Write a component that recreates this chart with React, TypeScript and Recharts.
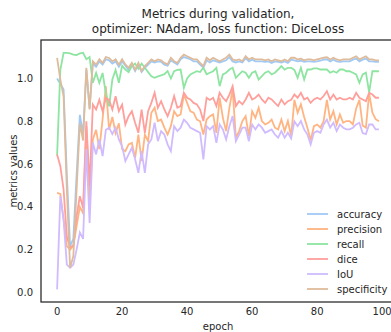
import { LineChart, Line, XAxis, YAxis } from "recharts";

// epoch 0..99 values
const accuracy = [
  1.0, 0.975, 0.948, 0.55, 0.216, 0.25, 0.55, 0.83, 0.74, 1.04, 0.86,
  1.07, 1.055, 1.08, 1.065, 1.09, 1.085, 1.07, 1.08, 1.055, 1.08,
  1.06, 1.04, 1.065, 1.035, 1.065, 1.03, 1.05, 1.065, 1.08, 1.075,
  1.08, 1.078, 1.065, 1.06, 1.085, 1.075, 1.065, 1.09, 1.1, 1.095,
  1.09, 1.08, 1.08, 1.065, 1.05, 1.085, 1.075, 1.085, 1.08, 1.075,
  1.08, 1.085, 1.1, 1.08, 1.075, 1.08, 1.075, 1.095, 1.08, 1.088,
  1.08, 1.08, 1.08, 1.078, 1.08, 1.073, 1.08, 1.078, 1.075, 1.08,
  1.073, 1.088, 1.085, 1.08, 1.083, 1.078, 1.08, 1.08, 1.078, 1.08,
  1.083, 1.088, 1.09, 1.08, 1.088, 1.08, 1.078, 1.08, 1.08, 1.08,
  1.088, 1.093, 1.08, 1.088, 1.093, 1.08, 1.08, 1.078, 1.078,
];
const precision = [
  0.465, 0.46, 0.34, 0.216, 0.2, 0.216, 0.31, 0.4, 0.37, 0.777, 0.43,
  0.715, 0.76, 0.67, 0.81, 0.964, 0.76, 0.82, 0.745, 0.79, 0.67,
  0.66, 0.692, 0.699, 0.629, 0.738, 0.614, 0.738, 0.707, 0.84, 0.863,
  0.801, 0.808, 0.77, 0.738, 0.777, 0.847, 0.824, 0.832, 0.925, 0.886,
  0.847, 0.84, 0.808, 0.8, 0.738, 0.808, 0.824, 0.832, 0.746, 0.91,
  0.816, 0.754, 0.863, 0.949, 0.723, 0.754, 0.801, 0.824, 0.731, 0.847,
  0.816, 0.863, 0.801, 0.785, 0.793, 0.808, 0.77, 0.762, 0.808, 0.754,
  0.801, 0.73, 0.9, 0.84, 0.88, 0.82, 0.77, 0.71, 0.777, 0.785,
  0.77, 0.801, 0.9, 0.808, 0.847, 0.785, 0.832, 0.793, 0.801, 0.801,
  0.785, 0.86, 0.9, 0.78, 0.77, 0.93, 0.84, 0.81, 0.8,
];
const recall = [
  0.64, 1.04, 1.12, 1.12, 1.117, 1.112, 1.11, 1.117, 1.12, 1.09, 1.1,
  0.98, 1.026, 0.98, 1.026, 0.93, 0.87, 0.995, 1.04, 0.98, 1.06,
  1.042, 1.03, 1.058, 1.07, 1.045, 1.07, 1.05, 1.03, 1.01, 1.003,
  1.01, 1.015, 1.02, 1.035, 1.0, 1.034, 1.04, 1.042, 0.956, 1.0,
  1.019, 1.027, 1.034, 1.03, 1.05, 1.02, 1.027, 1.034, 1.05, 0.964,
  1.019, 1.027, 1.042, 1.05, 1.003, 1.019, 1.034, 1.027, 1.003, 1.027,
  1.034, 0.995, 1.011, 1.027, 1.034, 1.019, 1.027, 1.042, 1.058, 1.042,
  1.05, 1.05, 1.04, 1.003, 1.05, 0.995, 1.042, 1.042, 1.047, 1.047,
  1.042, 1.042, 1.042, 1.027, 1.034, 1.027, 1.042, 1.042, 1.034, 1.034,
  1.027, 1.019, 0.98, 1.019, 1.027, 0.935, 1.034, 1.034, 1.034,
];
const dice = [
  0.645, 0.59, 0.48, 0.26, 0.21, 0.22, 0.355, 0.45, 0.395, 0.8, 0.5,
  0.878, 0.855, 0.9, 0.847, 0.909, 0.9, 0.855, 0.917, 0.847, 0.878,
  0.785, 0.824, 0.847, 0.793, 0.746, 0.855, 0.746, 0.847, 0.886, 0.933,
  0.863, 0.894, 0.855, 0.824, 0.863, 0.918, 0.863, 0.871, 0.933, 0.91,
  0.902, 0.886, 0.879, 0.855, 0.801, 0.91, 0.9, 0.91, 0.871, 0.933,
  0.91, 0.894, 0.925, 0.964, 0.871, 0.894, 0.879, 0.902, 0.933, 0.902,
  0.91, 0.925, 0.902, 0.886, 0.91, 0.902, 0.886, 0.871, 0.902, 0.879,
  0.894, 0.9, 0.925, 0.91, 0.933, 0.902, 0.91, 0.886, 0.902, 0.91,
  0.902, 0.918, 0.941, 0.902, 0.925, 0.902, 0.91, 0.902, 0.902, 0.91,
  0.902, 0.933, 0.91, 0.902, 0.894, 0.933, 0.925, 0.91, 0.91,
];
const iou = [
  0.014, 0.45, 0.34, 0.13, 0.115, 0.13, 0.2, 0.28, 0.25, 0.67, 0.325,
  0.7, 0.645, 0.715, 0.637, 0.76, 0.77, 0.74, 0.77, 0.715, 0.683,
  0.614, 0.645, 0.676, 0.622, 0.559, 0.66, 0.559, 0.692, 0.715, 0.793,
  0.707, 0.754, 0.738, 0.692, 0.66, 0.777, 0.754, 0.77, 0.808, 0.793,
  0.77, 0.762, 0.754, 0.746, 0.622, 0.777, 0.762, 0.777, 0.699, 0.785,
  0.762, 0.715, 0.777, 0.824, 0.707, 0.738, 0.77, 0.77, 0.707, 0.785,
  0.762, 0.785, 0.77, 0.746, 0.754, 0.762, 0.738, 0.723, 0.754, 0.723,
  0.746, 0.72, 0.8, 0.777, 0.801, 0.762, 0.738, 0.692, 0.746, 0.754,
  0.746, 0.785, 0.808, 0.77, 0.793, 0.754, 0.785, 0.77, 0.762, 0.762,
  0.77, 0.785, 0.793, 0.745, 0.74, 0.785, 0.785, 0.762, 0.762,
];
const specificity = [
  1.096, 0.995, 0.917, 0.48, 0.115, 0.17, 0.48, 0.79, 0.71, 1.05, 0.855,
  1.08, 1.065, 1.09, 1.073, 1.1, 1.096, 1.08, 1.09, 1.065, 1.09,
  1.066, 1.05, 1.073, 1.04, 1.073, 1.035, 1.058, 1.073, 1.089, 1.081,
  1.089, 1.085, 1.073, 1.066, 1.097, 1.081, 1.073, 1.097, 1.112, 1.104,
  1.097, 1.089, 1.089, 1.073, 1.058, 1.097, 1.085, 1.097, 1.089, 1.081,
  1.089, 1.097, 1.112, 1.089, 1.085, 1.089, 1.081, 1.104, 1.089, 1.097,
  1.089, 1.089, 1.089, 1.085, 1.089, 1.081, 1.089, 1.085, 1.081, 1.089,
  1.081, 1.097, 1.097, 1.089, 1.093, 1.085, 1.089, 1.089, 1.085, 1.089,
  1.093, 1.097, 1.1, 1.089, 1.097, 1.089, 1.085, 1.089, 1.089, 1.089,
  1.097, 1.104, 1.089, 1.097, 1.104, 1.089, 1.089, 1.085, 1.085,
];

const xTicks = [0, 20, 40, 60, 80, 100];
const yTicks = [0, 0.2, 0.4, 0.6, 0.8, 1.0];

const series = [
  { key: "accuracy", color: "#a1c9f4" },
  { key: "precision", color: "#ffb482" },
  { key: "recall", color: "#8de5a1" },
  { key: "dice", color: "#ff9f9b" },
  { key: "IoU", color: "#d0bbff" },
  { key: "specificity", color: "#debb9b" },
];

const data = accuracy.map((_, i) => ({
  epoch: i,
  accuracy: accuracy[i],
  precision: precision[i],
  recall: recall[i],
  dice: dice[i],
  IoU: iou[i],
  specificity: specificity[i],
}));

const FONT = "'DejaVu Sans', sans-serif";
const INK = "#262626";

export default function App() {
  return (
    <div
      style={{
        position: "fixed",
        left: 0,
        top: 0,
        width: 391,
        height: 332,
        overflow: "hidden",
        background: "#fff",
      }}
    >
      <LineChart
        width={400}
        height={332}
        data={data}
        margin={{ top: 40, right: 5, bottom: 0, left: 0 }}
      >
        <XAxis
          dataKey="epoch"
          type="number"
          domain={[-4.95, 103.95]}
          ticks={xTicks}
          allowDataOverflow
          axisLine={false}
          tickLine={false}
          tickSize={0}
          tickMargin={6}
          height={30}
          tick={{ fontSize: 10, fill: INK, fontFamily: FONT }}
        />
        <YAxis
          type="number"
          domain={[-0.045, 1.18]}
          ticks={yTicks}
          allowDataOverflow
          axisLine={false}
          tickLine={false}
          tickSize={0}
          tickMargin={8}
          width={41}
          tickFormatter={(v) => v.toFixed(1)}
          tick={{ fontSize: 10, fill: INK, fontFamily: FONT }}
        />
        {series.map((s) => (
          <Line
            key={s.key}
            type="linear"
            dataKey={s.key}
            stroke={s.color}
            strokeWidth={1.8}
            dot={false}
            isAnimationActive={false}
          />
        ))}
      </LineChart>
      <svg
        width={391}
        height={332}
        style={{ position: "absolute", left: 0, top: 0, pointerEvents: "none" }}
        fontFamily={FONT}
      >
        <rect x={41} y={40} width={360} height={262} fill="none" stroke={INK} strokeWidth={1.25} />
        <text x={218} y={18} textAnchor="middle" fontSize={12} fill={INK}>
          Metrics during validation,
        </text>
        <text x={218} y={33} textAnchor="middle" fontSize={12} fill={INK}>
          optimizer: NAdam, loss function: DiceLoss
        </text>
        <text x={218} y={330} textAnchor="middle" fontSize={10} fill={INK}>
          epoch
        </text>
        <text x={17} y={171} textAnchor="middle" fontSize={10} fill={INK} transform="rotate(-90 17 171)">
          metrics values
        </text>
        {series.map((s, i) => (
          <g key={s.key}>
            <line x1={307} x2={328} y1={214 + i * 15} y2={214 + i * 15} stroke={s.color} strokeWidth={1.8} />
            <text x={337} y={217.5 + i * 15} fontSize={10} fill={INK}>
              {s.key}
            </text>
          </g>
        ))}
      </svg>
    </div>
  );
}
